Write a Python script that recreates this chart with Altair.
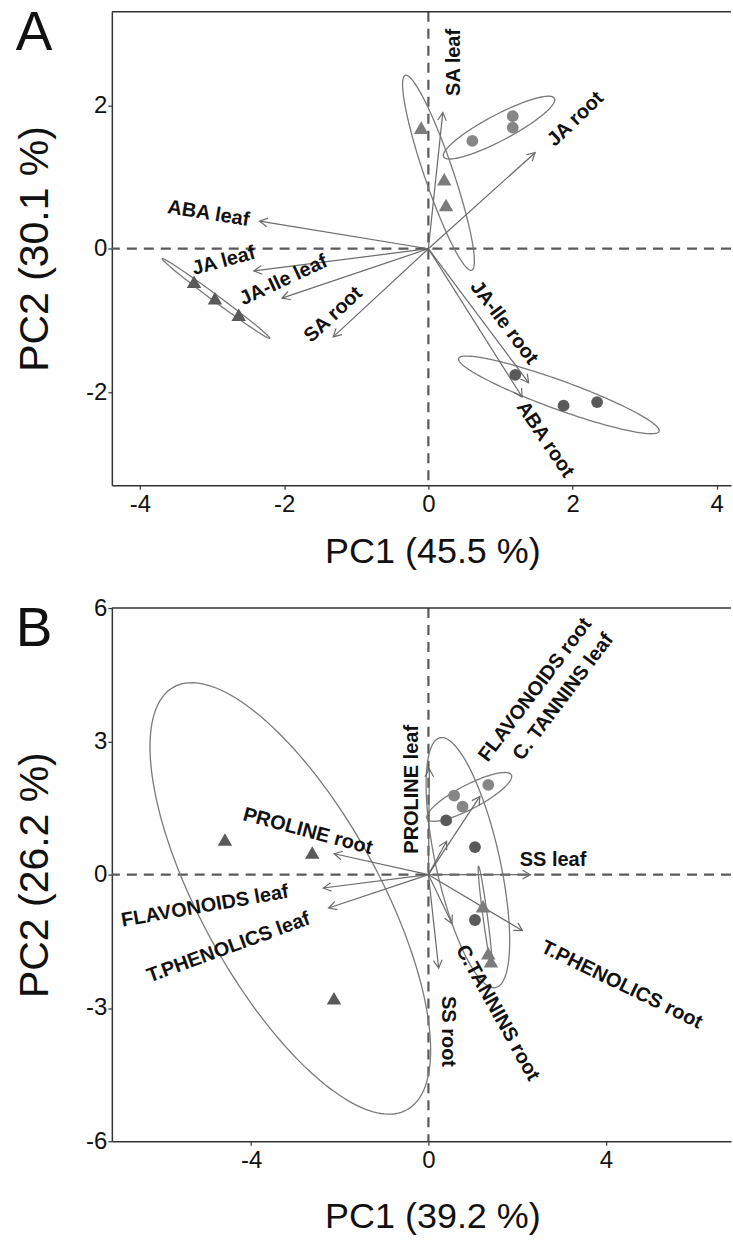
import altair as alt
import numpy as np
import pandas as pd

# ---------------- Panel A data ----------------
a_pt_x = [-3.25, -2.96, -2.63, -0.10, 0.22, 0.245, 0.61, 1.17, 1.17, 1.205, 1.875, 2.34]
a_pt_y = [-0.46, -0.69, -0.92, 1.69, 0.97, 0.61, 1.505, 1.85, 1.69, -1.76, -2.19, -2.14]
a_pt_shape = ["triangle-up"] * 6 + ["circle"] * 6
a_pt_grp = ["g1", "g1", "g1", "g2", "g2", "g2", "g3", "g3", "g3", "g4", "g4", "g4"]

a_var = ["SA leaf", "JA root", "ABA leaf", "JA leaf", "JA-Ile leaf", "SA root", "JA-Ile root", "ABA root"]
a_var_x = [0.20, 1.48, -2.34, -2.42, -2.03, -1.32, 1.39, 1.30]
a_var_y = [1.90, 1.34, 0.385, -0.31, -0.69, -1.23, -1.87, -2.07]
a_lab_x = [0.35, 2.04, -3.05, -2.84, -2.01, -1.32, 1.05, 1.62]
a_lab_y = [2.60, 1.81, 0.49, -0.17, -0.44, -0.92, -1.03, -2.66]
a_lab_angle = [270, 316, 9, 345, 335, 317, 53, 56]

a_ell_cx = [-2.945, 0.14, 0.98, 1.81]
a_ell_cy = [-0.695, 1.06, 1.69, -2.04]
a_ell_a = [0.93, 1.436, 0.87, 1.48]
a_ell_b = [0.045, 0.20, 0.18, 0.20]
a_ell_deg = [-36.7, -71.3, 28.0, -20.1]

# ---------------- Panel B data ----------------
b_pt_x = [-4.59, -2.62, -2.13, 1.23, 1.35, 1.41, 1.35, 0.58, 0.77, 0.40, 1.05, 1.05]
b_pt_y = [0.79, 0.50, -2.78, -0.71, -1.77, -1.95, 2.02, 1.78, 1.53, 1.22, 0.62, -1.02]
b_pt_shape = ["triangle-up"] * 6 + ["circle"] * 6
b_pt_grp = ["g1", "g1", "g1", "g2", "g2", "g2", "g3", "g3", "g3", "g4", "g4", "g4"]

b_var = ["PROLINE leaf", "PROLINE root", "FLAVONOIDS leaf", "T.PHENOLICS leaf", "SS leaf",
         "T.PHENOLICS root", "SS root", "C.TANNINS root", "FLAVONOIDS root", "C. TANNINS leaf"]
b_var_x = [0.02, -2.125, -2.37, -2.25, 2.30, 2.12, 0.23, 0.53, 1.16, 0.41]
b_var_y = [2.38, 0.47, -0.30, -0.75, 0.0, -1.26, -2.10, -1.10, 1.76, 0.75]
b_lab_x = [-0.38, -2.72, -5.04, -4.51, 2.81, 4.36, 0.45, 1.56, 2.41, 3.04]
b_lab_y = [1.92, 0.975, -0.71, -1.64, 0.34, -2.48, -3.53, -3.11, 4.16, 4.00]
b_lab_angle = [270, 15, 350, 340, 0, 26, 90, 61, 307, 307]

b_ell_cx = [-3.115, 0.89, 0.92, 1.28]
b_ell_cy = [-0.535, 0.27, 1.75, -0.94]
b_ell_a = [5.435, 2.88, 1.07, 1.14]
b_ell_b = [2.01, 0.72, 0.27, 0.05]
b_ell_deg = [-61.05, -77.4, 27.5, -82.4]

FONT = "Liberation Sans, Arial, Helvetica, sans-serif"
ARROW_PATH = "M -1 -0.55 L 0 0 L -1 0.55"


def ellipse_frame(cx, cy, a, b, deg, n=181):
    rows = []
    t = np.linspace(0, 2 * np.pi, n)
    for i, (x0, y0, aa, bb, d) in enumerate(zip(cx, cy, a, b, deg)):
        th = np.deg2rad(d)
        ex = x0 + aa * np.cos(th) * np.cos(t) - bb * np.sin(th) * np.sin(t)
        ey = y0 + aa * np.sin(th) * np.cos(t) + bb * np.cos(th) * np.sin(t)
        for k in range(n):
            rows.append({"e": i, "k": k, "x": float(ex[k]), "y": float(ey[k])})
    return pd.DataFrame(rows)


def panel(W, H, xdom, ydom, xticks, yticks, xtitle, ytitle, letter, xtitle_x, xtitle_y,
          ptx, pty, pshape, pgrp, grp_colors, tri_size, circ_size,
          var, vx, vy, lx, ly, lang, ecx, ecy, ea, eb, edeg, guide=False):
    xs = alt.Scale(domain=xdom, nice=False, zero=False)
    ys = alt.Scale(domain=ydom, nice=False, zero=False)
    xax = alt.Axis(values=xticks, title=xtitle, labelExpr="'' + datum.value",
                   titleX=xtitle_x, titleY=xtitle_y, titleAlign="center",
                   titleBaseline="middle", titleAngle=0, labelPadding=3, titleFontSize=36)
    yax = alt.Axis(values=yticks, title=ytitle, labelExpr="'' + datum.value",
                   titleX=-76, titleY=H / 2, titleAlign="center", titleBaseline="middle",
                   titleAngle=270, labelPadding=1, titleFontSize=41)

    def X(f):
        return alt.X(f, scale=xs, axis=xax)

    def Y(f):
        return alt.Y(f, scale=ys, axis=yax)

    pts = pd.DataFrame({"x": ptx, "y": pty, "shape": pshape, "grp": pgrp})
    arr = pd.DataFrame({"x0": [0.0] * len(var), "y0": [0.0] * len(var), "x": vx, "y": vy})
    labs = pd.DataFrame({"x": lx, "y": ly, "txt": var, "ang": lang})
    ell = ellipse_frame(ecx, ecy, ea, eb, edeg)
    one = pd.DataFrame({"z": [0.0]})

    vline = alt.Chart(one).mark_rule(color="#5a5a5a", strokeWidth=2.2, strokeDash=[10, 7]).encode(
        x=X("z:Q"))
    hline = alt.Chart(one).mark_rule(color="#5a5a5a", strokeWidth=2.2, strokeDash=[10, 7]).encode(
        y=Y("z:Q"))
    topline = alt.Chart(one).mark_rule(color="#333333", strokeWidth=1.5).encode(
        x=alt.value(0), x2=alt.value(W), y=alt.value(0))

    ellipses = alt.Chart(ell).mark_line(color="#7a7a7a", strokeWidth=1.3, clip=False).encode(
        x=X("x:Q"), y=Y("y:Q"), detail="e:N", order="k:Q")

    shafts = alt.Chart(arr).mark_rule(color="#6a6a6a", strokeWidth=1.2).encode(
        x=X("x0:Q"), y=Y("y0:Q"), x2="x:Q", y2="y:Q")
    heads = alt.Chart(arr).transform_calculate(
        ang="(360 - atan2(datum.y, datum.x) * 180 / PI) % 360"
    ).mark_point(shape=ARROW_PATH, filled=False, color="#6a6a6a", strokeWidth=1.2,
                 size=250, opacity=1).encode(
        x=X("x:Q"), y=Y("y:Q"), angle=alt.Angle("ang:Q", scale=None))

    points = alt.Chart(pts).mark_point(filled=True, opacity=1, strokeWidth=0).encode(
        x=X("x:Q"), y=Y("y:Q"),
        shape=alt.Shape("shape:N", scale=None),
        color=alt.Color("grp:N", scale=alt.Scale(domain=["g1", "g2", "g3", "g4"], range=grp_colors),
                        legend=None),
        size=alt.Size("shape:N", scale=alt.Scale(domain=["triangle-up", "circle"],
                                                 range=[tri_size, circ_size]), legend=None))

    labels = alt.Chart(labs).mark_text(font=FONT, fontSize=20, fontWeight="bold", color="#111111",
                                       align="center", baseline="middle").encode(
        x=X("x:Q"), y=Y("y:Q"), text="txt:N", angle=alt.Angle("ang:Q", scale=None))

    let = alt.Chart(one).mark_text(font=FONT, fontSize=55, color="#111111", align="center",
                                   baseline="middle").encode(
        x=alt.value(-78), y=alt.value(21), text=alt.value(letter))

    layers = [vline, hline, topline, ellipses, shafts, heads, points, labels, let]
    if guide:
        g = alt.Chart(one).mark_rule(color="#ffffff", strokeWidth=1).encode(
            x=alt.value(-111), y=alt.value(-10), y2=alt.value(0))
        layers.append(g)
    return alt.layer(*layers).properties(width=W, height=H)


WA, HA = 620, 474
WB, HB = 620, 534

pa = panel(WA, HA, [-4.39, -4.39 + WA / 72.2], [-3.30, 3.306], [-4, -2, 0, 2, 4], [-2, 0, 2],
           "PC1 (45.5 %)", "PC2 (30.1 %)", "A", 321, 66,
           a_pt_x, a_pt_y, a_pt_shape, a_pt_grp, ["#5a5a5a", "#7c7c7c", "#868686", "#5a5a5a"], 210, 140,
           a_var, a_var_x, a_var_y, a_lab_x, a_lab_y, a_lab_angle,
           a_ell_cx, a_ell_cy, a_ell_a, a_ell_b, a_ell_deg, guide=True)

pb = panel(WB, HB, [-7.14, -7.14 + WB / 44.4], [-6, 6], [-4, 0, 4], [-6, -3, 0, 3, 6],
           "PC1 (39.2 %)", "PC2 (26.2 %)", "B", 321, 75,
           b_pt_x, b_pt_y, b_pt_shape, b_pt_grp, ["#6a6a6a", "#9c9c9c", "#8a8a8a", "#5e5e5e"], 175, 110,
           b_var, b_var_x, b_var_y, b_lab_x, b_lab_y, b_lab_angle,
           b_ell_cx, b_ell_cy, b_ell_a, b_ell_b, b_ell_deg)

chart = alt.vconcat(pa, pb, spacing=123, bounds="flush").properties(
    padding={"left": 0, "top": 0, "right": 0, "bottom": 0}
).configure_view(stroke="transparent").configure_axis(
    labelFont=FONT, titleFont=FONT, labelFontSize=24,
    titleFontWeight="normal", labelColor="#111111", titleColor="#111111",
    domainColor="#333333", domainWidth=1.5, tickColor="#333333", tickSize=4,
    tickWidth=1.2, grid=False
).configure_concat(spacing=123)

chart.save("out.html", embed_options={"renderer": "svg", "actions": False})
